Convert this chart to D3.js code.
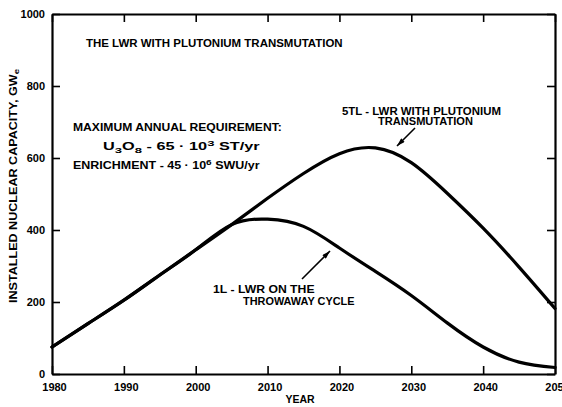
<!DOCTYPE html>
<html>
<head>
<meta charset="utf-8">
<script src="https://cdn.jsdelivr.net/npm/d3@7/dist/d3.min.js"></script>
<style>
  html, body { margin: 0; padding: 0; background: #fff; }
  svg { display: block; }
  text { font-family: "Liberation Sans", Arial, sans-serif; font-weight: bold; fill: #000; }
</style>
</head>
<body>
<svg id="chart" width="562" height="407"></svg>
<script>
// Installed nuclear capacity (GWe) by year for the two fuel-cycle scenarios
const years = [1980, 1985, 1990, 1995, 2000, 2005, 2010, 2015, 2020, 2025, 2030, 2035, 2040, 2045, 2050];
const throwaway1L = [75, 140, 205, 275, 345, 415, 430, 410, 350, 285, 218, 142, 75, 33, 18];
const transmutation5TL = [75, 140, 205, 275, 345, 415, 488, 557, 612, 628, 587, 502, 405, 297, 182];

const xTicks = [1980, 1990, 2000, 2010, 2020, 2030, 2040, 2050];
const yTicks = [0, 200, 400, 600, 800, 1000];

const svg = d3.select("#chart");
const plotLeft = 52, plotRight = 555, plotTop = 14, plotBottom = 374;

const x = d3.scaleLinear().domain([1980, 2050]).range([plotLeft, plotRight]);
const y = d3.scaleLinear().domain([0, 1000]).range([plotBottom, plotTop]);

// Frame with inward ticks on all four sides
function styleAxis(g, showLabels) {
  g.select(".domain").attr("stroke", "#000").attr("stroke-width", 2.2);
  g.selectAll(".tick line").attr("stroke", "#000").attr("stroke-width", 1.6);
  g.selectAll(".tick text")
    .style("font-size", "11px")
    .style("font-weight", "bold")
    .attr("fill", "#000");
  if (!showLabels) g.selectAll(".tick text").remove();
}

svg.append("g")
  .attr("transform", `translate(0,${plotBottom})`)
  .call(d3.axisBottom(x).tickValues(xTicks).tickFormat(d3.format("d")).tickSize(-8).tickSizeOuter(0).tickPadding(9))
  .call(g => styleAxis(g, true))
  .call(g => g.selectAll(".tick text").attr("dx", "2"));

svg.append("g")
  .attr("transform", `translate(0,${plotTop})`)
  .call(d3.axisTop(x).tickValues(xTicks).tickSize(-8).tickSizeOuter(0))
  .call(g => styleAxis(g, false));

svg.append("g")
  .attr("transform", `translate(${plotLeft},0)`)
  .call(d3.axisLeft(y).tickValues(yTicks).tickFormat(d3.format("d")).tickSize(-8).tickSizeOuter(0).tickPadding(7))
  .call(g => styleAxis(g, true));

svg.append("g")
  .attr("transform", `translate(${plotRight},0)`)
  .call(d3.axisRight(y).tickValues(yTicks).tickSize(-8).tickSizeOuter(0))
  .call(g => styleAxis(g, false));

// Capacity curves
const line = d3.line()
  .x((d, i) => x(years[i]))
  .y(d => y(d))
  .curve(d3.curveNatural);

[throwaway1L, transmutation5TL].forEach(series => {
  svg.append("path")
    .datum(series)
    .attr("d", line)
    .attr("fill", "none")
    .attr("stroke", "#000")
    .attr("stroke-width", 3.2)
    .attr("stroke-linejoin", "round")
    .attr("stroke-linecap", "round");
});

// Axis titles
svg.append("text")
  .attr("x", 300).attr("y", 403)
  .attr("text-anchor", "middle")
  .style("font-size", "10.5px")
  .text("YEAR");

const yTitle = svg.append("text")
  .attr("text-anchor", "middle")
  .style("font-size", "10.5px");
yTitle.append("tspan").text("INSTALLED NUCLEAR CAPACITY, GW");
yTitle.append("tspan").attr("dy", 2).style("font-size", "8px").text("e");
{
  const bb = yTitle.node().getBBox();
  yTitle.attr("transform", `translate(17,186) rotate(-90) scale(${235 / bb.width},1)`);
}

// Stretch or squeeze a text element horizontally to span a given width
function fitWidth(sel, x0, width) {
  const bb = sel.node().getBBox();
  const s = width / bb.width;
  sel.attr("transform", `translate(${x0},0) scale(${s},1) translate(${-bb.x},0)`);
}

function label(xp, yp, size, str) {
  return svg.append("text").attr("x", xp).attr("y", yp).style("font-size", size + "px").text(str);
}

fitWidth(label(0, 47, 10, "THE LWR WITH PLUTONIUM TRANSMUTATION"), 86, 257);
fitWidth(label(0, 131, 10, "MAXIMUM ANNUAL REQUIREMENT:"), 73, 209);

const u = svg.append("text").attr("x", 0).attr("y", 150).style("font-size", "10px");
u.append("tspan").text("U");
u.append("tspan").attr("dy", 3).style("font-size", "8px").text("3");
u.append("tspan").attr("dy", -3).text("O");
u.append("tspan").attr("dy", 3).style("font-size", "8px").text("8");
u.append("tspan").attr("dy", -3).text(" - 65 \u00B7 10");
u.append("tspan").attr("dy", -4).style("font-size", "8px").text("3");
u.append("tspan").attr("dy", 4).text(" ST/yr");
fitWidth(u, 103, 157);

const en = svg.append("text").attr("x", 0).attr("y", 169).style("font-size", "10px");
en.append("tspan").text("ENRICHMENT - 45 \u00B7 10");
en.append("tspan").attr("dy", -4).style("font-size", "8px").text("6");
en.append("tspan").attr("dy", 4).text(" SWU/yr");
fitWidth(en, 73, 187);

fitWidth(label(0, 115, 10, "5TL - LWR WITH PLUTONIUM"), 342, 159);
fitWidth(label(0, 125, 10, "TRANSMUTATION"), 378, 95);
fitWidth(label(0, 293, 10, "1L - LWR ON THE"), 213, 102);
fitWidth(label(0, 305, 10, "THROWAWAY CYCLE"), 243, 112);

// Pointer arrows
svg.append("defs").append("marker")
  .attr("id", "head")
  .attr("viewBox", "0 0 10 6")
  .attr("refX", 10).attr("refY", 3)
  .attr("markerWidth", 10).attr("markerHeight", 5)
  .attr("markerUnits", "userSpaceOnUse")
  .attr("orient", "auto")
  .append("path").attr("d", "M0,0 L10,3 L0,6 Z").attr("fill", "#000");

[[415, 128, 397, 146], [302, 279, 330, 251]].forEach(([x1, y1, x2, y2]) => {
  svg.append("line")
    .attr("x1", x1).attr("y1", y1).attr("x2", x2).attr("y2", y2)
    .attr("stroke", "#000").attr("stroke-width", 1.6)
    .attr("marker-end", "url(#head)");
});
</script>
</body>
</html>
